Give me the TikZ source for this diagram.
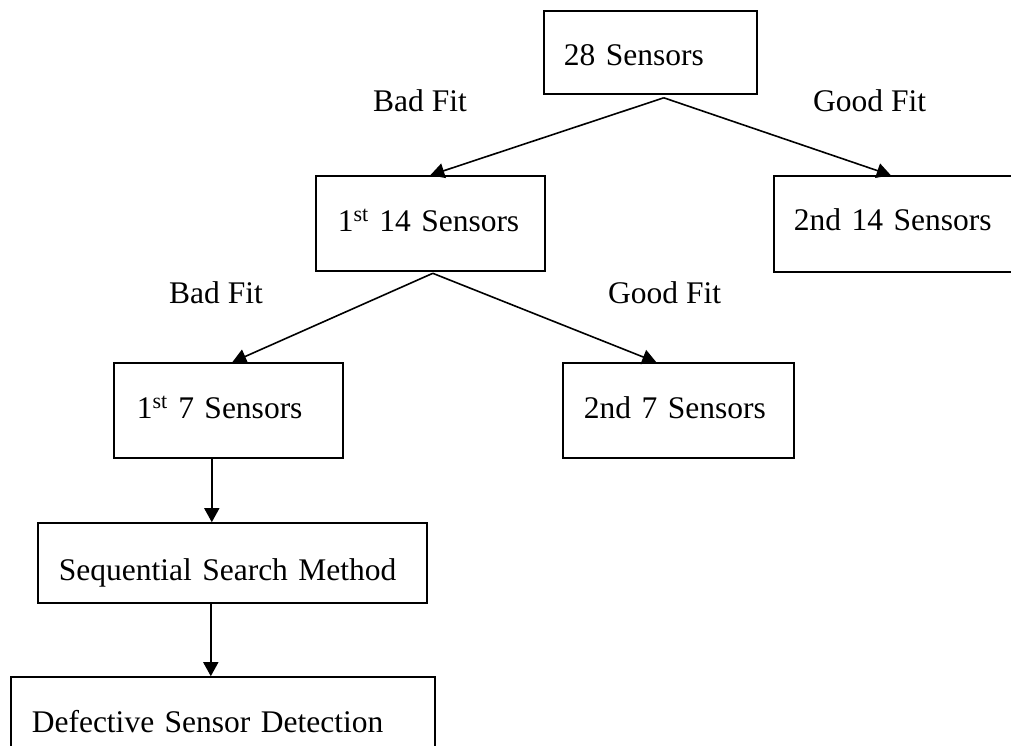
\documentclass[tikz,border=0pt]{standalone}
\usepackage{fontspec}
\setmainfont{Liberation Serif}
\usetikzlibrary{arrows.meta}

\tikzset{
  stagebox/.style={draw, line width=1.6pt, inner xsep=21pt, inner ysep=0pt,
    align=left, anchor=base west, font=\fontsize{31.5}{38}\selectfont},
  fitlabel/.style={inner sep=0pt, anchor=base west, font=\fontsize{31.5}{38}\selectfont},
  flow/.style={line width=1.6pt, -{Triangle[length=14pt,width=15pt]}}
}

\begin{document}
\begin{tikzpicture}[x=1pt, y=-1pt]
  \path[use as bounding box, clip] (0,0) rectangle (1011,746);

  % stages of the search
  \node[stagebox, inner xsep=20pt, text width=173pt, text height=55pt, text depth=28pt]
    (n28) at (543,66) {28 Sensors};
  \node[stagebox, inner xsep=22pt, text width=185pt, text height=55pt, text depth=40pt]
    (n14a) at (315,231) {1\textsuperscript{st} 14 Sensors};
  \node[stagebox, inner xsep=20pt, text width=215pt, text height=54pt, text depth=42pt]
    (n14b) at (773,230) {2nd 14 Sensors};
  \node[stagebox, inner xsep=23pt, text width=183pt, text height=55pt, text depth=40pt]
    (n7a) at (113,418) {1\textsuperscript{st} 7 Sensors};
  \node[stagebox, inner xsep=21pt, text width=189pt, text height=55pt, text depth=40pt]
    (n7b) at (562,418) {2nd 7 Sensors};
  \node[stagebox, inner xsep=21pt, text width=347pt, text height=57pt, text depth=23pt]
    (nseq) at (37,580) {Sequential Search Method};
  \node[stagebox, inner xsep=21pt, text width=382pt, text height=55pt, text depth=40pt]
    (ndet) at (10,732) {Defective Sensor Detection};

  % branch labels
  \node[fitlabel] (bad1) at (373,112) {Bad Fit};
  \node[fitlabel] (good1) at (813,112) {Good Fit};
  \node[fitlabel] (bad2) at (169,303) {Bad Fit};
  \node[fitlabel] (good2) at (608,303) {Good Fit};

  % split points below the parent boxes
  \coordinate (split28) at ([xshift=13.5pt,yshift=-3pt]n28.south);
  \coordinate (split14) at ([xshift=2.5pt,yshift=-1.5pt]n14a.south);

  % connectors
  \draw[flow] (split28) -- (n14a.north);
  \draw[flow] (split28) -- ([xshift=-10.5pt]n14b.north);
  \draw[flow] (split14) -- ([xshift=4pt]n7a.north);
  \draw[flow] (split14) -- ([xshift=-22pt]n7b.north);
  \draw[flow] ([xshift=-16.5pt]n7a.south) -- ([xshift=-16.5pt]n7a.south |- nseq.north);
  \draw[flow] ([xshift=-21.5pt]nseq.south) -- ([xshift=-21.5pt]nseq.south |- ndet.north);
\end{tikzpicture}
\end{document}
